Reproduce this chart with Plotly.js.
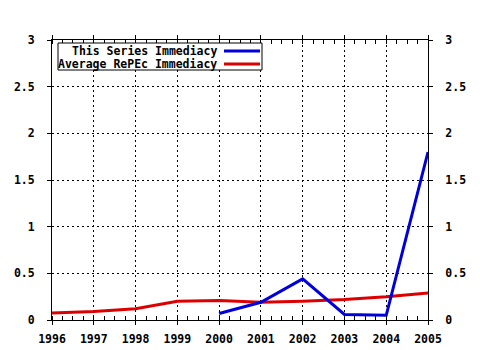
<!DOCTYPE html>
<html><head><meta charset="utf-8">
<script src="https://cdn.plot.ly/plotly-3.0.1.min.js"></script>
<style>html,body{margin:0;padding:0;background:#fff;}#c{width:480px;height:350px;}</style>
</head><body><div id="c"></div>
<script>
const years = [1996,1997,1998,1999,2000,2001,2002,2003,2004,2005];
const seriesYears = [2000,2001,2002,2003,2004,2005];
const seriesImmediacy = [0.07,0.19,0.44,0.06,0.05,1.80];
const averageImmediacy = [0.075,0.09,0.12,0.20,0.21,0.19,0.20,0.22,0.25,0.29];
const yTickVals = [0,0.5,1,1.5,2,2.5,3];
const yTickText = ['0','0.5','1','1.5','2','2.5','3'];
const legendLabels = ['This Series Immediacy','Average RePEc Immediacy'];
const colors = ['#0000dd','#dd0000'];

const font = {family:'DejaVu Sans Mono, monospace', size:11.5, color:'#000', weight:'bold'};

const traces = [
  {x:years, y:averageImmediacy, mode:'lines', line:{color:colors[1], width:3}, showlegend:false, hoverinfo:'skip'},
  {x:seriesYears, y:seriesImmediacy, mode:'lines', line:{color:colors[0], width:3}, showlegend:false, hoverinfo:'skip'},
  {x:years, y:averageImmediacy, yaxis:'y2', mode:'lines', line:{width:0}, opacity:0, showlegend:false, hoverinfo:'skip'}
];

const axisCommon = {showline:true, linecolor:'#000', linewidth:1, zeroline:false,
  gridcolor:'#000', griddash:'2px,3px', gridwidth:1, tickcolor:'#000', tickfont:font};

const layout = {
  width:480, height:350,
  margin:{l:52, r:52, t:40, b:30},
  paper_bgcolor:'#fff', plot_bgcolor:'#fff',
  font:font,
  showlegend:false,
  xaxis:Object.assign({}, axisCommon, {range:[1996,2005], tickvals:years, ticktext:years.map(String),
    ticks:'outside', ticklen:4, mirror:'allticks', showgrid:true, ticklabelstandoff:4,
    minor:{dtick:0.25, tick0:1996, ticks:'inside', ticklen:3, tickcolor:'#000', showgrid:false}}),
  yaxis:Object.assign({}, axisCommon, {range:[0,3], tickvals:yTickVals, ticktext:yTickText,
    ticks:'outside', ticklen:4, mirror:'allticks', showgrid:true, ticklabelstandoff:10}),
  yaxis2:Object.assign({}, axisCommon, {range:[0,3], tickvals:yTickVals, ticktext:yTickText,
    overlaying:'y', side:'right', ticks:'outside', ticklen:4, showgrid:false, ticklabelstandoff:10}),
  shapes:[
    {type:'rect', xref:'paper', yref:'paper', x0:(58-52)/376, x1:(262-52)/376, y0:(320-70)/280, y1:(320-43)/280,
     line:{color:'#000', width:1}, fillcolor:'#fff', layer:'above'},
    {type:'line', xref:'paper', yref:'paper', x0:(224-52)/376, x1:(260-52)/376, y0:(320-51)/280, y1:(320-51)/280,
     line:{color:colors[0], width:3}, layer:'above'},
    {type:'line', xref:'paper', yref:'paper', x0:(224-52)/376, x1:(260-52)/376, y0:(320-64)/280, y1:(320-64)/280,
     line:{color:colors[1], width:3}, layer:'above'}
  ],
  annotations:[
    {xref:'paper', yref:'paper', x:(219-52)/376, y:(320-51)/280, xanchor:'right', yanchor:'middle', showarrow:false,
     text:legendLabels[0], font:font},
    {xref:'paper', yref:'paper', x:(219-52)/376, y:(320-64)/280, xanchor:'right', yanchor:'middle', showarrow:false,
     text:legendLabels[1], font:font}
  ]
};

Plotly.newPlot('c', traces, layout, {staticPlot:true, displayModeBar:false});
</script>
</body></html>
